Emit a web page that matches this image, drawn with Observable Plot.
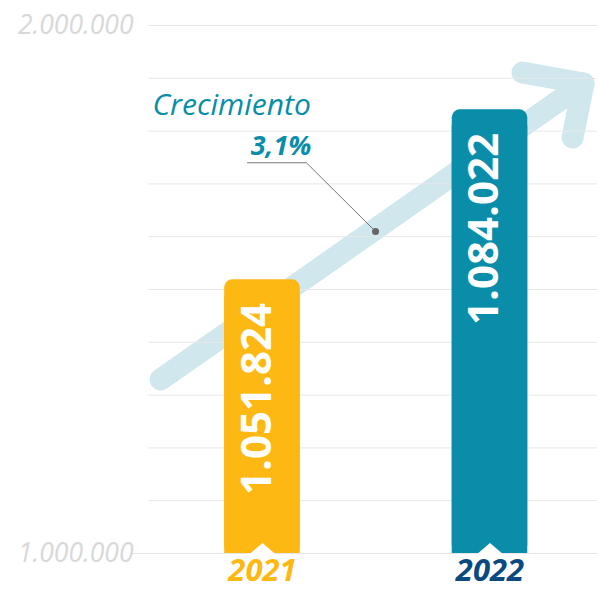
<!DOCTYPE html>
<html>
<head>
<meta charset="utf-8">
<script src="https://cdn.jsdelivr.net/npm/d3@7"></script>
<script src="https://cdn.jsdelivr.net/npm/@observablehq/plot@0.6"></script>
<style>
  html, body { margin: 0; padding: 0; background: #fff; }
  svg { display: block; }
</style>
</head>
<body>
<div id="chart"></div>
<script>
// ---- data ----
const years = ["2021", "2022"];
const values = [1051824, 1084022];
const valueLabels = ["1.051.824", "1.084.022"];
const barColors = ["#FDB813", "#0A8DA8"];
const yearColors = ["#FDB813", "#0B4A80"];
const yLabelValues = [1000000, 1100000];
const yLabelTexts = ["1.000.000", "2.000.000"];
const gridValues = [1000000, 1010000, 1020000, 1030000, 1040000, 1050000, 1060000, 1070000, 1080000, 1090000, 1100000];
const growthTitle = "Crecimiento";
const growthValue = "3,1%";
// decorative growth arrow, in data units (x: year index, y: value)
const arrowShaft = [[-0.448, 1032955], [1.411, 1089015]];
const arrowHead = [[1.143, 1091098], [1.411, 1089015], [1.363, 1078788]];
const leader = [[-0.066, 1074000], [0.193, 1074000], [0.497, 1060985]];

const idx = years.map((_, i) => i);
const teal = "#0A8DA8";

const chart = Plot.plot({
  width: 597,
  height: 590,
  marginLeft: 148,
  marginRight: 0,
  marginTop: 25,
  marginBottom: 37,
  x: {domain: [-0.501, 1.4725], axis: null},
  y: {domain: [1000000, 1100000], axis: null},
  color: {type: "identity"},
  style: {fontFamily: "'Open Sans', sans-serif", background: "white", overflow: "visible"},
  marks: [
    Plot.line(arrowShaft, {x: d => d[0], y: d => d[1], stroke: "#CFE7ED", strokeWidth: 22, strokeLinecap: "round", strokeLinejoin: "round"}),
    Plot.line(arrowHead, {x: d => d[0], y: d => d[1], stroke: "#CFE7ED", strokeWidth: 22, strokeLinecap: "round", strokeLinejoin: "round"}),
    Plot.ruleY(gridValues.slice(1), {stroke: "#E8E8E8", strokeWidth: 1}),
    Plot.ruleY([gridValues[0]], {x1: () => -0.58, x2: () => 1.4725, stroke: "#E6E6E6", strokeWidth: 1.2}),
    Plot.rectY(idx, {x1: i => i - 0.166, x2: i => i + 0.166, y1: () => 1000000, y2: i => values[i], fill: i => barColors[i], rx: 8}),
    Plot.rectY(idx, {x1: i => i - 0.166, x2: i => i + 0.166, y1: () => 1000000, y2: i => values[i] - 3000, fill: i => barColors[i]}),
    Plot.dot(idx, {
      x: i => i, y: () => 1000000, fill: "white", r: 5,
      symbol: {draw(ctx) { ctx.moveTo(-14, 1.5); ctx.lineTo(0, -10.5); ctx.lineTo(14, 1.5); ctx.closePath(); }}
    }),
    Plot.text(idx, {
      x: i => i, y: i => values[i], text: i => valueLabels[i], rotate: -90, textAnchor: "end",
      dy: 23, dx: -5, fill: "white", fontSize: 42, fontWeight: "bold"
    }),
    Plot.text(idx, {
      x: i => i, y: () => 1000000, text: i => years[i], dy: 18, fill: i => yearColors[i],
      fontSize: 31, fontWeight: "bold", fontStyle: "italic"
    }),
    Plot.text(yLabelValues, {
      y: d => d, text: (d, i) => yLabelTexts[i], frameAnchor: "left", textAnchor: "end", dx: -15,
      fontSize: 26.5, fontStyle: "italic", fill: "#D8D8D8"
    }),
    Plot.line(leader, {x: d => d[0], y: d => d[1], stroke: "#777", strokeWidth: 1}),
    Plot.dot([leader[2]], {x: d => d[0], y: d => d[1], r: 3.5, fill: "#666", stroke: "none"}),
    Plot.text([growthTitle], {
      x: () => -0.4835, y: () => 1082955, text: d => d, textAnchor: "start", lineAnchor: "bottom",
      fontSize: 30, fontStyle: "italic", fill: teal
    }),
    Plot.text([growthValue], {
      x: () => 0.215, y: () => 1075568, text: d => d, textAnchor: "end", lineAnchor: "bottom",
      fontSize: 27, fontStyle: "italic", fontWeight: "bold", fill: teal
    })
  ]
});
document.getElementById("chart").appendChild(chart);
</script>
</body>
</html>
